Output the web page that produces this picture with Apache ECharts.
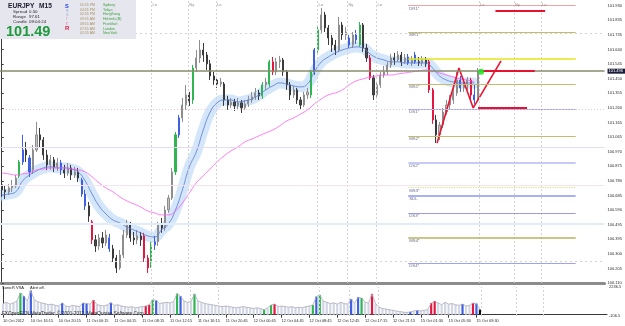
<!DOCTYPE html>
<html>
<head>
<meta charset="utf-8">
<script src="https://cdn.jsdelivr.net/npm/echarts/dist/echarts.min.js"></script>
<style>
html, body { margin: 0; padding: 0; background: #fff; }
#chart { width: 625px; height: 326px; }
</style>
</head>
<body>
<div id="chart"></div>
<script>
// EURJPY M15 - bars at 30 min steps
var N_SLOTS = 174;
var timeLabels = ['10 Oct 2012', '10 Oct 16:15', '10 Oct 20:15', '11 Oct 00:15', '11 Oct 04:15', '11 Oct 08:15',
    '11 Oct 12:15', '11 Oct 16:15', '11 Oct 20:45', '12 Oct 00:45', '12 Oct 04:45', '12 Oct 08:45',
    '12 Oct 12:45', '12 Oct 17:15', '12 Oct 21:15', '15 Oct 01:30', '15 Oct 05:30', '15 Oct 09:30'];
var LABEL_EVERY = 8;

var priceLabels = ['100.110', '100.205', '100.300', '100.395', '100.495', '100.590', '100.685', '100.780', '100.875', '100.970',
    '101.065', '101.165', '101.260', '101.355', '101.450', '101.545', '101.640', '101.735', '101.835', '101.930'];
var PRICE_MIN = 100.110, PRICE_MAX = 101.967;
var PRICE_STEP = PRICE_MIN / 1045;

var opens = [100.754, 100.721, 100.708, 100.734, 100.747, 100.813, 100.904, 100.983, 100.931, 100.852,
    100.983, 101.082, 101.049, 100.950, 100.885, 100.918, 100.872, 100.898, 100.852, 100.832,
    100.865, 100.819, 100.839, 100.786, 100.694, 100.616, 100.511, 100.393, 100.353, 100.406,
    100.373, 100.406, 100.334, 100.274, 100.209, 100.294, 100.425, 100.491, 100.406, 100.393,
    100.419, 100.419, 100.274, 100.242, 100.360, 100.380, 100.491, 100.471, 100.589, 100.668,
    100.839, 101.082, 101.193, 101.278, 101.344, 101.311, 101.521, 101.587, 101.639, 101.606,
    101.548, 101.469, 101.442, 101.416, 101.416, 101.311, 101.278, 101.298, 101.272, 101.292,
    101.259, 101.285, 101.311, 101.331, 101.357, 101.338, 101.410, 101.416, 101.561, 101.495,
    101.561, 101.574, 101.495, 101.410, 101.344, 101.377, 101.311, 101.278, 101.344, 101.344,
    101.495, 101.639, 101.771, 101.869, 101.784, 101.718, 101.672, 101.639, 101.803, 101.738,
    101.718, 101.672, 101.738, 101.672, 101.803, 101.652, 101.587, 101.456, 101.344, 101.410,
    101.475, 101.495, 101.541, 101.587, 101.574, 101.606, 101.561, 101.593, 101.554, 101.606,
    101.561, 101.554, 101.574, 101.561, 101.377, 101.180, 101.082, 101.147, 101.232, 101.278,
    101.311, 101.357, 101.442, 101.390, 101.410, 101.442, 101.344, 101.311];
var closes = [100.721, 100.708, 100.734, 100.747, 100.799, 100.904, 100.983, 100.950, 100.839, 100.983,
    101.082, 101.049, 100.950, 100.885, 100.918, 100.872, 100.898, 100.852, 100.832, 100.865,
    100.819, 100.839, 100.799, 100.694, 100.616, 100.550, 100.393, 100.353, 100.406, 100.373,
    100.425, 100.334, 100.274, 100.209, 100.294, 100.425, 100.491, 100.406, 100.393, 100.419,
    100.393, 100.274, 100.209, 100.360, 100.380, 100.491, 100.471, 100.589, 100.668, 100.839,
    101.082, 101.193, 101.278, 101.344, 101.298, 101.521, 101.587, 101.639, 101.606, 101.548,
    101.469, 101.442, 101.416, 101.429, 101.311, 101.278, 101.298, 101.272, 101.292, 101.259,
    101.285, 101.311, 101.331, 101.357, 101.338, 101.410, 101.429, 101.561, 101.495, 101.561,
    101.574, 101.495, 101.410, 101.344, 101.377, 101.311, 101.278, 101.344, 101.364, 101.495,
    101.639, 101.771, 101.869, 101.784, 101.718, 101.672, 101.639, 101.803, 101.738, 101.757,
    101.672, 101.738, 101.705, 101.803, 101.652, 101.587, 101.456, 101.344, 101.410, 101.475,
    101.495, 101.541, 101.587, 101.574, 101.606, 101.561, 101.587, 101.554, 101.574, 101.561,
    101.554, 101.574, 101.548, 101.377, 101.180, 101.082, 101.147, 101.232, 101.278, 101.311,
    101.357, 101.442, 101.390, 101.410, 101.442, 101.344, 101.311, 101.496];
var highs = [100.773, 100.747, 100.760, 100.786, 100.819, 100.918, 101.082, 101.036, 100.950, 101.016,
    101.167, 101.127, 101.068, 100.983, 100.950, 100.937, 100.931, 100.918, 100.885, 100.898,
    100.885, 100.872, 100.865, 100.799, 100.721, 100.642, 100.524, 100.425, 100.432, 100.445,
    100.458, 100.432, 100.360, 100.294, 100.327, 100.458, 100.524, 100.511, 100.445, 100.458,
    100.445, 100.439, 100.294, 100.380, 100.419, 100.511, 100.537, 100.616, 100.688, 100.865,
    101.101, 101.213, 101.324, 101.410, 101.364, 101.541, 101.639, 101.705, 101.685, 101.626,
    101.574, 101.495, 101.462, 101.456, 101.429, 101.338, 101.324, 101.318, 101.324, 101.311,
    101.311, 101.338, 101.364, 101.390, 101.377, 101.429, 101.456, 101.574, 101.593, 101.587,
    101.600, 101.587, 101.508, 101.429, 101.403, 101.390, 101.331, 101.364, 101.390, 101.508,
    101.652, 101.790, 101.915, 101.889, 101.803, 101.738, 101.705, 101.856, 101.823, 101.790,
    101.738, 101.757, 101.771, 101.823, 101.816, 101.679, 101.606, 101.475, 101.429, 101.495,
    101.534, 101.561, 101.613, 101.620, 101.633, 101.626, 101.613, 101.613, 101.600, 101.626,
    101.593, 101.600, 101.593, 101.574, 101.390, 101.213, 101.167, 101.259, 101.311, 101.344,
    101.390, 101.495, 101.469, 101.442, 101.462, 101.456, 101.410, 101.521];
var lows = [100.675, 100.662, 100.688, 100.708, 100.734, 100.799, 100.885, 100.904, 100.806, 100.826,
    100.970, 100.996, 100.918, 100.852, 100.852, 100.839, 100.845, 100.819, 100.799, 100.813,
    100.786, 100.799, 100.773, 100.675, 100.589, 100.511, 100.366, 100.314, 100.327, 100.340,
    100.353, 100.314, 100.248, 100.176, 100.196, 100.274, 100.406, 100.380, 100.360, 100.366,
    100.353, 100.248, 100.176, 100.209, 100.327, 100.353, 100.439, 100.452, 100.570, 100.655,
    100.819, 101.062, 101.167, 101.246, 101.272, 101.285, 101.495, 101.554, 101.561, 101.508,
    101.442, 101.410, 101.390, 101.397, 101.272, 101.246, 101.259, 101.239, 101.252, 101.226,
    101.246, 101.265, 101.292, 101.311, 101.311, 101.318, 101.377, 101.397, 101.475, 101.475,
    101.521, 101.469, 101.377, 101.311, 101.324, 101.285, 101.246, 101.265, 101.318, 101.324,
    101.475, 101.620, 101.751, 101.757, 101.672, 101.626, 101.606, 101.626, 101.705, 101.705,
    101.652, 101.652, 101.679, 101.659, 101.626, 101.561, 101.442, 101.311, 101.324, 101.390,
    101.456, 101.475, 101.521, 101.541, 101.561, 101.534, 101.548, 101.541, 101.534, 101.548,
    101.534, 101.534, 101.528, 101.357, 101.154, 101.029, 101.049, 101.127, 101.213, 101.246,
    101.285, 101.338, 101.364, 101.364, 101.377, 101.311, 101.285, 101.298];

// VSA colouring of bars
var greenBars = [5, 43, 50, 55, 75, 77, 89, 91, 103];
var blueBars = [6, 8, 17, 23, 24, 31, 44, 51, 90, 100, 102, 117, 119, 132, 136];
var redBars = [26, 41, 42, 78, 106, 123, 124, 135];
var blackBars = [137];

// moving averages, one reading every 2 bars
var MA_STEP = 2;
var maFast = [100.688, 100.694, 100.708, 100.780, 100.819, 100.845, 100.865, 100.872, 100.865, 100.865,
    100.858, 100.839, 100.780, 100.694, 100.616, 100.563, 100.524, 100.504, 100.478, 100.458,
    100.439, 100.419, 100.412, 100.458, 100.498, 100.589, 100.721, 100.872, 100.970, 101.114,
    101.232, 101.292, 101.311, 101.311, 101.298, 101.305, 101.318, 101.344, 101.377, 101.403,
    101.423, 101.416, 101.403, 101.397, 101.416, 101.495, 101.561, 101.593, 101.620, 101.639,
    101.652, 101.659, 101.652, 101.613, 101.587, 101.574, 101.561, 101.561, 101.554, 101.554,
    101.554, 101.554, 101.521, 101.469, 101.442, 101.429, 101.423, 101.423, 101.423];
var maSlow = [100.832, 100.826, 100.819, 100.826, 100.832, 100.852, 100.858, 100.865, 100.865, 100.865,
    100.858, 100.852, 100.839, 100.806, 100.767, 100.734, 100.708, 100.675, 100.649, 100.629,
    100.609, 100.583, 100.570, 100.557, 100.557, 100.583, 100.635, 100.701, 100.767, 100.813,
    100.858, 100.904, 100.944, 100.977, 101.003, 101.036, 101.055, 101.075, 101.095, 101.114,
    101.141, 101.173, 101.193, 101.219, 101.246, 101.285, 101.318, 101.344, 101.357, 101.377,
    101.410, 101.436, 101.449, 101.462, 101.469, 101.475, 101.475, 101.482, 101.488, 101.495,
    101.502, 101.508, 101.502, 101.488, 101.475, 101.462, 101.449, 101.442, 101.429];

var volumes = [900, 1000, 850, 950, 1100, 1750, 1500, 1100, 1950, 1200,
    1050, 950, 900, 800, 850, 750, 700, 950, 700, 650,
    750, 700, 650, 950, 900, 850, 1190, 800, 750, 700,
    800, 970, 750, 800, 700, 650, 600, 650, 550, 600,
    650, 700, 800, 1200, 1150, 900, 950, 1000, 950, 1050,
    1700, 1500, 1100, 1000, 1050, 1680, 1100, 1000, 900, 850,
    800, 750, 700, 650, 700, 650, 600, 550, 600, 650,
    600, 550, 500, 550, 500, 400, 550, 780, 860, 650,
    700, 650, 600, 650, 550, 600, 550, 650, 700, 780,
    1460, 1600, 1100, 1000, 900, 950, 850, 1000, 900, 850,
    1270, 900, 1410, 1350, 1000, 950, 1680, 900, 600, 500,
    450, 400, 350, 300, 250, 200, 180, 225, 300, 350,
    300, 350, 400, 940, 1100, 950, 800, 1000, 850, 900,
    800, 750, 860, 700, 750, 940, 900, 420];
var VOL_MIN = -106.5, VOL_MAX = 2236.5;

var quarterLevels = [101.75, 101.25, 101.00, 100.75, 100.50, 100.25];
var bidPrice = 101.496;

var pivotNames = ['DR1*', 'MR1*', 'DP', 'MS1*', 'DS1*', 'MS2*', 'DS2*', 'MS3*', 'SDL', 'DS3*', 'MS4*', 'DS4*'];
var pivotPrices = [101.930, 101.755, 101.580, 101.414, 101.252, 101.075, 100.900, 100.736, 100.681, 100.568, 100.404, 100.240];
var pivotFrom = 117, pivotTo = 165.2;

var sessionAt = [43.1, 53.7, 61.7, 90.9, 99.5, 107.9, 137.4, 147.4, 155.2];
var sessionNames = ['Lo', 'Ny', 'Lo', 'Lo', 'Ny', 'Lo', 'Lo', 'Ny', 'Lo'];

// hand drawn objects
var zigzagAt = [125.3, 131.6, 135.7, 143.7];
var zigzagPrice = [101.029, 101.521, 101.259, 101.567];
var redLevelFrom = [138.5, 137.1, 142.1];
var redLevelTo = [153.4, 151.2, 156.4];
var redLevelPrice = [101.502, 101.261, 101.897];
var dotAt = [138.0, 101.496];

// info panel
var quoteText = '101.49';
var cityTimes = ['05:55 PM', '03:55 PM', '02:55 PM', '09:55 AM', '08:55 AM', '07:55 AM', '02:55 AM'];
var cityNames = ['Sydney', 'Tokyo', 'HongKong', 'Helsinki (B)', 'Frankfurt', 'London', 'NewYork'];

var FONT = 'Liberation Sans';
var TONE = { g: '#2fb552', b: '#3e5fe2', r: '#e3173f', k: '#111111' };
var PIVOT_STYLE = {
    'DR1*': { color: '#f2a4a4', width: 1.2 },
    'MR1*': { color: '#c4bc6c', width: 1.2 },
    'DP': { color: '#e4e41a', width: 1.6 },
    'MS1*': { color: '#c4bc6c', width: 1.2 },
    'DS1*': { color: '#a4a8e8', width: 1.2 },
    'MS2*': { color: '#c4bc6c', width: 1.2 },
    'DS2*': { color: '#c6cbf6', width: 2 },
    'MS3*': { color: '#e2dc80', width: 1.2, type: 'dotted' },
    'SDL': { color: '#a8b0f0', width: 2 },
    'DS3*': { color: '#9c9ce2', width: 1.2 },
    'MS4*': { color: '#b8b262', width: 1.5 },
    'DS4*': { color: '#a2a2e8', width: 1.2 }
};
var QUARTER_STYLE = [
    { color: '#d4d4d4', type: [2, 3], width: 1 },
    { color: '#eec6d6', type: [1, 2], width: 1 },
    { color: '#e6dcf2', type: 'solid', width: 1 },
    { color: '#f2e4f0', type: 'solid', width: 1 },
    { color: '#e2ecf7', type: 'solid', width: 2 },
    { color: '#d4d4d4', type: [2, 3], width: 1 }
];

var toneOf = {};
greenBars.forEach(function (i) { toneOf[i] = 'g'; });
blueBars.forEach(function (i) { toneOf[i] = 'b'; });
redBars.forEach(function (i) { toneOf[i] = 'r'; });
blackBars.forEach(function (i) { toneOf[i] = 'k'; });

var categories = [];
for (var i = 0; i < N_SLOTS; i++) {
    var t = (i % LABEL_EVERY === 0) ? timeLabels[i / LABEL_EVERY] : '';
    categories.push(t || '');
}

var candleData = closes.map(function (c, i) {
    var item = { value: [opens[i], c, lows[i], highs[i]] };
    var tone = toneOf[i];
    if (tone && tone !== 'k') {
        var col = TONE[tone];
        item.itemStyle = { color: col, color0: col, borderColor: col, borderColor0: col };
    }
    return item;
});

var volData = volumes.map(function (v, i) {
    var tone = toneOf[i];
    return tone ? { value: v, itemStyle: { color: TONE[tone] } } : v;
});

function maPoints(arr) {
    return arr.map(function (v, k) { return [k * MA_STEP, v]; });
}

var myChart = echarts.init(document.getElementById('chart'));

var quarterLines = quarterLevels.map(function (p, k) {
    return { yAxis: p, lineStyle: QUARTER_STYLE[k], label: { show: false } };
});
quarterLines.push({
    yAxis: bidPrice,
    lineStyle: { color: '#8a8b6c', width: 1.5, type: 'solid' },
    label: {
        show: true, position: 'end', distance: 3, formatter: bidPrice.toFixed(3),
        color: '#ffffff', backgroundColor: '#1c1c3a', fontSize: 4, fontFamily: FONT, padding: [1, 2, 0, 1]
    }
});

var pivotLines = pivotNames.map(function (name, k) {
    var st = PIVOT_STYLE[name];
    return [{
        coord: [pivotFrom, pivotPrices[k]],
        lineStyle: { color: st.color, width: st.width, type: st.type || 'solid' },
        label: {
            show: name !== 'DP', position: 'insideStartBottom', distance: [1, 1],
            formatter: name, color: '#6a6a92', fontSize: 4.3, fontFamily: FONT
        }
    }, { coord: [pivotTo, pivotPrices[k]] }];
});

var sessionLines = sessionAt.map(function (x) { return { xAxis: x }; });

var redLines = redLevelPrice.map(function (p, k) {
    return [{ coord: [redLevelFrom[k], p] }, { coord: [redLevelTo[k], p] }];
});

var graphicItems = [
    { type: 'rect', shape: { x: 0, y: 0, width: 136, height: 39 }, style: { fill: '#e6e6ef' }, z: 10 }
];
function txt(x, y, s, fill, font) {
    graphicItems.push({ type: 'text', x: x, y: y, z: 11, style: { text: s, fill: fill, font: font, verticalAlign: 'middle' } });
}
txt(8, 6.5, 'EURJPY', '#1a1a2e', 'bold 6.6px ' + FONT);
txt(39, 6.5, 'M15', '#1a1a2e', 'bold 6.6px ' + FONT);
txt(13, 11.8, 'Spread', '#2a2a2a', '4.4px ' + FONT);
txt(29, 11.8, '0.50', '#2a2a2a', '4.4px ' + FONT);
txt(13, 16.8, 'Range', '#2a2a2a', '4.4px ' + FONT);
txt(29, 16.8, '97.61', '#2a2a2a', '4.4px ' + FONT);
txt(13, 22.2, 'Candle', '#2a2a2a', '4.4px ' + FONT);
txt(29, 22.2, '09:04:24', '#2a2a2a', '4.4px ' + FONT);
txt(6, 32, quoteText, '#1f9a3c', 'bold 14.5px ' + FONT);
txt(65, 6.3, 'S', '#2440e4', 'bold 5.6px ' + FONT);
txt(66, 11, 's', '#9fb0e2', 'bold 4.6px ' + FONT);
txt(66, 15, 's', '#b8bad6', 'bold 4.6px ' + FONT);
txt(66, 19, 'r', '#dab4cc', 'bold 4.6px ' + FONT);
txt(66, 23.3, 'r', '#ef84a6', 'bold 4.6px ' + FONT);
txt(65, 28.6, 'R', '#e21c44', 'bold 6px ' + FONT);
cityTimes.forEach(function (s, k) {
    txt(80, 5 + k * 4.72, s, '#a89460', '3.5px ' + FONT);
    txt(103, 5 + k * 4.72, cityNames[k], '#3aa23a', '3.6px ' + FONT);
});
txt(2, 288, 'SonicR VSA', '#222', '4px ' + FONT);
txt(30, 288, 'Alert off.', '#222', '4px ' + FONT);
txt(2, 313.6, 'FXOpenECN MetaTrader, \u00a9 2001-2012, MetaQuotes Software Corp.', '#2a2a2a', '4.7px ' + FONT);

var option = {
    animation: false,
    backgroundColor: '#ffffff',
    textStyle: { fontFamily: FONT },
    grid: [
        { left: 0, top: 0, width: 607, height: 283 },
        { left: 0, top: 287, width: 607, height: 29 }
    ],
    xAxis: [{
        type: 'category', gridIndex: 0, data: categories, boundaryGap: true,
        axisLine: { lineStyle: { color: '#8c8c8c', width: 3 } },
        axisTick: { show: false }, axisLabel: { show: false }, splitLine: { show: false }
    }, {
        type: 'category', gridIndex: 1, data: categories, boundaryGap: true,
        axisLine: { lineStyle: { color: '#3a3a3a', width: 1 } },
        axisTick: {
            show: true, length: 3, alignWithLabel: true, lineStyle: { color: '#3a3a3a' },
            interval: function (idx) { return categories[idx] !== ''; }
        },
        axisLabel: {
            show: true, interval: 0, align: 'left', margin: 3, fontSize: 3.9, color: '#2a2a2a', fontFamily: FONT
        },
        splitLine: { show: false }
    }, {
        type: 'value', gridIndex: 0, min: -0.5, max: N_SLOTS - 0.5, show: false
    }, {
        type: 'value', gridIndex: 1, min: -0.5, max: N_SLOTS - 0.5, show: false
    }],
    yAxis: [{
        type: 'value', gridIndex: 0, position: 'right',
        min: PRICE_MIN, max: PRICE_MAX, interval: PRICE_STEP,
        axisLine: { show: true, lineStyle: { color: '#3c3c3c' } },
        axisTick: { show: true, length: 2, lineStyle: { color: '#3c3c3c' } },
        splitLine: { show: false },
        axisLabel: {
            margin: 3, fontSize: 4, color: '#2a2a2a', fontFamily: FONT,
            formatter: function (v) {
                var k = (v - PRICE_MIN) / PRICE_STEP, n = Math.round(k);
                return (Math.abs(k - n) < 0.05 && priceLabels[n]) ? priceLabels[n] : '';
            }
        }
    }, {
        type: 'value', gridIndex: 1, position: 'right',
        min: VOL_MIN, max: VOL_MAX, splitNumber: 2,
        axisLine: { show: true, lineStyle: { color: '#3c3c3c' } },
        axisTick: { show: false },
        splitLine: { show: false },
        axisLabel: {
            margin: 2, fontSize: 4, color: '#2a2a2a', fontFamily: FONT,
            formatter: function (v) {
                if (Math.abs(v - VOL_MAX) < 1e-6) return VOL_MAX.toFixed(1);
                if (Math.abs(v - VOL_MIN) < 1e-6) return VOL_MIN.toFixed(1);
                return '';
            }
        }
    }],
    graphic: graphicItems,
    series: [{
        // blue envelope band drawn as a wide pale stroke
        type: 'line', xAxisIndex: 2, yAxisIndex: 0, data: maPoints(maFast), smooth: true,
        symbol: 'none', z: 1, silent: true,
        lineStyle: { color: 'rgba(196,221,248,0.75)', width: 11, cap: 'round', join: 'round' },
        markLine: {
            silent: true, symbol: ['none', 'none'], animation: false,
            lineStyle: { color: '#d2d2d2', type: [2, 2], width: 1 },
            label: { show: false },
            data: sessionLines
        }
    }, {
        type: 'line', xAxisIndex: 2, yAxisIndex: 0, data: [[pivotFrom, pivotPrices[0]]], symbol: 'none',
        lineStyle: { width: 0 }, z: 1,
        markLine: { silent: true, symbol: ['none', 'none'], animation: false, data: pivotLines }
    }, {
        type: 'candlestick', xAxisIndex: 0, yAxisIndex: 0, data: candleData, barWidth: 1.6, z: 2,
        itemStyle: { color: '#c2c2c2', color0: '#4a4a4a', borderColor: '#8e8e8e', borderColor0: '#3a3a3a', borderWidth: 1 },
        markLine: { silent: true, symbol: ['none', 'none'], animation: false, data: quarterLines }
    }, {
        type: 'line', xAxisIndex: 2, yAxisIndex: 0, data: maPoints(maFast), smooth: true, symbol: 'none', z: 3,
        lineStyle: { color: '#5b78d2', width: 0.8 }
    }, {
        type: 'line', xAxisIndex: 2, yAxisIndex: 0, data: maPoints(maSlow), smooth: true, symbol: 'none', z: 3,
        lineStyle: { color: '#ff5cf4', width: 0.8 }
    }, {
        type: 'line', xAxisIndex: 2, yAxisIndex: 0, symbol: 'none', z: 4,
        data: zigzagAt.map(function (x, k) { return [x, zigzagPrice[k]]; }),
        lineStyle: { color: '#ec1230', width: 1.6 },
        markLine: {
            silent: true, symbol: ['none', 'none'], animation: false,
            lineStyle: { color: '#e6122e', width: 2, type: 'solid' }, label: { show: false },
            data: redLines
        }
    }, {
        type: 'scatter', xAxisIndex: 2, yAxisIndex: 0, data: [dotAt], symbolSize: 6, z: 5,
        itemStyle: { color: '#12e012' }
    }, {
        type: 'scatter', xAxisIndex: 2, yAxisIndex: 0, symbolSize: 0, z: 5,
        data: sessionAt.map(function (x, k) { return { value: [x, 101.934], name: sessionNames[k] }; }),
        label: { show: true, position: 'right', distance: 1, formatter: '{b}', fontSize: 4, color: '#707070', fontFamily: FONT }
    }, {
        type: 'bar', xAxisIndex: 1, yAxisIndex: 1, data: volData, barWidth: 2.2, z: 2,
        itemStyle: { color: '#d3d7e5' }
    }, {
        type: 'line', xAxisIndex: 3, yAxisIndex: 1, symbol: 'none', z: 3,
        data: volumes.map(function (v, i) { return [i, v]; }),
        lineStyle: { color: '#a9a9b6', width: 0.8 },
        markLine: {
            silent: true, symbol: ['none', 'none'], animation: false,
            lineStyle: { color: '#d2d2d2', type: [2, 2], width: 1 },
            label: { show: false },
            data: sessionLines
        }
    }]
};

myChart.setOption(option);
</script>
</body>
</html>
